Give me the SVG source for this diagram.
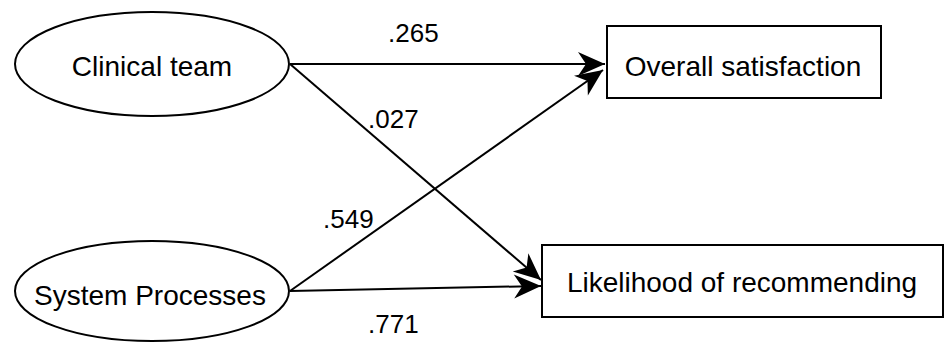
<svg xmlns="http://www.w3.org/2000/svg" width="946" height="345" viewBox="0 0 946 345">
<defs>
<style>
.node{fill:#fff;stroke:#000;stroke-width:2}
.t{font-family:"Liberation Sans",Arial,sans-serif;font-size:28px;fill:#000}
.lbl{font-family:"Liberation Sans",Arial,sans-serif;font-size:26px;fill:#000}
.edge{stroke:#000;stroke-width:2;fill:none;marker-end:url(#arr)}
</style>
<marker id="arr" markerUnits="userSpaceOnUse" viewBox="-28 -13 30 26" refX="0" refY="0" markerWidth="30" markerHeight="26" orient="auto">
<path d="M0,0 L-27,-12 L-19,0 L-27,12 Z" fill="#000"/>
</marker>
</defs>
<rect width="946" height="345" fill="#fff"/>
<g id="connectors">
<line class="edge" x1="290" y1="64" x2="605" y2="64"/>
<line class="edge" x1="290" y1="64" x2="541" y2="280"/>
<line class="edge" x1="290" y1="291" x2="603" y2="70"/>
<line class="edge" x1="290" y1="291" x2="541" y2="286"/>
<text class="lbl" x="388" y="42">.265</text>
<text class="lbl" x="368" y="128">.027</text>
<text class="lbl" x="323" y="228">.549</text>
<text class="lbl" x="368" y="333">.771</text>
</g>
<g id="clinical">
<ellipse class="node" cx="152" cy="64" rx="137" ry="52"/>
<text class="t" x="152" y="76" text-anchor="middle">Clinical team</text>
</g>
<g id="system">
<ellipse class="node" cx="152" cy="291" rx="137" ry="50"/>
<text class="t" x="150" y="305" text-anchor="middle">System Processes</text>
</g>
<g id="overall">
<rect class="node" x="607" y="26" width="274" height="72"/>
<text class="t" x="743" y="76" text-anchor="middle">Overall satisfaction</text>
</g>
<g id="likelihood">
<rect class="node" x="542" y="245" width="401" height="72"/>
<text class="t" x="742" y="292" text-anchor="middle">Likelihood of recommending</text>
</g>
</svg>
